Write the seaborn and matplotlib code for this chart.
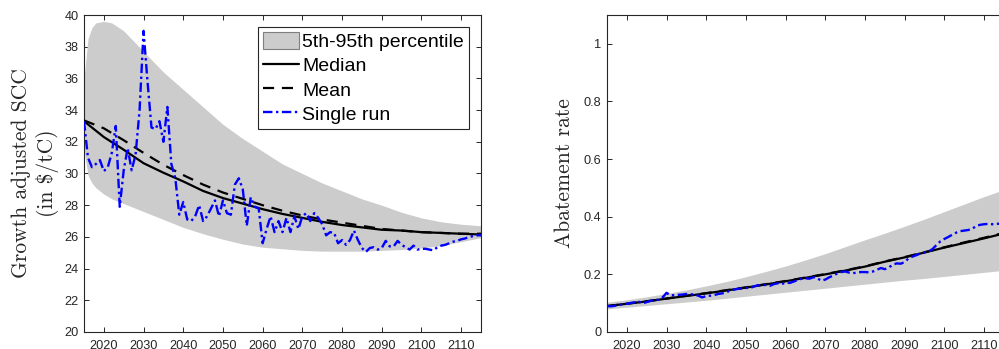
import numpy as np
import pandas as pd
import matplotlib
matplotlib.use("Agg")
import matplotlib.pyplot as plt
import seaborn as sns
from matplotlib.patches import Patch
from matplotlib.lines import Line2D

# ---------------- data ----------------
years_5 = [2015, 2020, 2025, 2030, 2035, 2040, 2045, 2050, 2055, 2060, 2065,
           2070, 2075, 2080, 2085, 2090, 2095, 2100, 2105, 2110, 2115]
years_1 = list(range(2015, 2116))

# Growth adjusted SCC (in $/tC)
scc_band_years = [2015, 2016, 2017, 2018, 2020, 2022, 2025, 2030, 2035, 2040,
                  2045, 2050, 2055, 2060, 2065, 2070, 2075, 2080, 2085, 2090,
                  2095, 2100, 2105, 2110, 2115]
scc_p95 = [36.0, 38.5, 39.2, 39.5, 39.6, 39.5, 39.0, 37.7, 36.4, 35.3,
           34.2, 33.1, 32.2, 31.4, 30.6, 30.0, 29.4, 28.9, 28.4, 28.0,
           27.55, 27.2, 26.95, 26.8, 26.7]
scc_p5 = [31.5, 29.9, 29.4, 29.1, 28.7, 28.4, 28.1, 27.6, 27.1, 26.6,
          26.2, 25.85, 25.55, 25.35, 25.25, 25.15, 25.1, 25.1, 25.1, 25.15,
          25.2, 25.3, 25.45, 25.7, 25.95]
scc_median = [33.3, 32.3, 31.5, 30.65, 30.05, 29.5, 28.9, 28.45, 28.1, 27.75, 27.45,
              27.2, 26.95, 26.75, 26.6, 26.45, 26.4, 26.3, 26.25, 26.2, 26.15]
scc_mean = [33.35, 32.85, 32.1, 31.3, 30.55, 29.9, 29.3, 28.8, 28.4, 28.0, 27.65,
            27.35, 27.1, 26.9, 26.7, 26.5, 26.4, 26.3, 26.25, 26.2, 26.2]
scc_single = [33.3, 31.0, 30.4, 30.6, 30.85, 30.15, 30.4, 31.3, 33.0, 27.9,
              30.2, 31.6, 30.2, 31.2, 34.0, 39.0, 35.8, 32.9, 32.8, 33.3,
              32.0, 34.2, 30.6, 29.7, 27.4, 28.2, 27.1, 27.0, 27.3, 28.0,
              27.0, 27.3, 27.8, 28.3, 27.3, 28.3, 27.5, 27.4, 29.3, 29.7,
              29.0, 26.7, 28.5, 27.9, 27.8, 25.6, 26.5, 27.3, 26.3, 27.0,
              26.3, 27.2, 26.3, 27.3, 26.5, 27.3, 27.5, 27.0, 27.5, 27.2,
              26.8, 26.1, 26.3, 26.25, 25.6, 25.8, 25.5, 25.8, 26.4, 25.8,
              25.3, 25.05, 25.3, 25.35, 25.2, 25.3, 25.75, 25.4, 25.4, 25.75,
              25.5, 25.35, 25.2, 25.45, 25.2, 25.25, 25.25, 25.2, 25.15, 25.35,
              25.45, 25.5, 25.6, 25.7, 25.75, 25.85, 25.9, 26.0, 26.05, 26.1,
              26.1]

# Abatement rate
abat_p95 = [0.103, 0.112, 0.122, 0.134, 0.146, 0.160, 0.175, 0.192, 0.210, 0.229, 0.250,
            0.272, 0.296, 0.320, 0.343, 0.367, 0.392, 0.418, 0.444, 0.470, 0.494]
abat_p5 = [0.080, 0.086, 0.092, 0.098, 0.104, 0.110, 0.117, 0.124, 0.131, 0.138, 0.145,
           0.152, 0.159, 0.166, 0.173, 0.180, 0.186, 0.193, 0.200, 0.207, 0.214]
abat_median = [0.090, 0.098, 0.106, 0.116, 0.125, 0.134, 0.144, 0.154, 0.165, 0.176, 0.188,
               0.200, 0.213, 0.227, 0.244, 0.259, 0.276, 0.293, 0.309, 0.325, 0.342]
abat_mean = [0.090, 0.098, 0.107, 0.116, 0.126, 0.135, 0.145, 0.155, 0.166, 0.177, 0.189,
             0.201, 0.214, 0.228, 0.245, 0.260, 0.277, 0.294, 0.311, 0.327, 0.344]
abat_single = [0.090, 0.089, 0.091, 0.094, 0.096, 0.098, 0.101, 0.103, 0.105, 0.099,
               0.104, 0.108, 0.111, 0.112, 0.120, 0.136, 0.127, 0.128, 0.129, 0.130,
               0.132, 0.131, 0.130, 0.126, 0.120, 0.125, 0.126, 0.128, 0.132, 0.134,
               0.137, 0.144, 0.147, 0.150, 0.151, 0.153, 0.152, 0.158, 0.162, 0.163,
               0.163, 0.160, 0.166, 0.169, 0.166, 0.172, 0.170, 0.175, 0.180, 0.185,
               0.186, 0.185, 0.190, 0.186, 0.178, 0.182, 0.190, 0.196, 0.203, 0.208,
               0.210, 0.206, 0.204, 0.207, 0.208, 0.208, 0.207, 0.210, 0.216, 0.222,
               0.218, 0.224, 0.234, 0.238, 0.237, 0.243, 0.256, 0.262, 0.267, 0.273,
               0.276, 0.279, 0.288, 0.302, 0.315, 0.323, 0.330, 0.338, 0.345, 0.350,
               0.352, 0.354, 0.358, 0.368, 0.372, 0.374, 0.375, 0.374, 0.375, 0.376,
               0.377]

x_ticks = [2020, 2030, 2040, 2050, 2060, 2070, 2080, 2090, 2100, 2110]
scc_ticks = [20, 22, 24, 26, 28, 30, 32, 34, 36, 38, 40]
abat_ticks = [0, 0.2, 0.4, 0.6, 0.8, 1.0]
abat_ticklabels = ["0", "0.2", "0.4", "0.6", "0.8", "1"]

legend_labels = ["5th-95th percentile", "Median", "Mean", "Single run"]

# ---------------- style ----------------
sns.set_style("ticks")
plt.rcParams["font.family"] = ["Liberation Sans", "DejaVu Sans"]
AX_COLOR = "#262626"
BAND = "#cccccc"
BLUE = "#0000ff"
MEAN_DASH = (0, (5, 3.5))
RUN_DASH = (0, (4, 1.5, 1, 1.5))

fig = plt.figure(figsize=(9.99, 3.49), dpi=100)
ax1 = fig.add_axes([84 / 999, 17 / 349, 397 / 999, 317 / 349])
ax2 = fig.add_axes([607 / 999, 17 / 349, 397 / 999, 317 / 349])

serif = ["cmr10", "DejaVu Serif"]


def draw_panel(ax, band_years, lo, hi, med, mean, single):
    ax.fill_between(band_years, lo, hi, color=BAND, linewidth=0, zorder=1)
    sns.lineplot(x=years_5, y=med, ax=ax, color="black", linewidth=1.6,
                 linestyle="-", zorder=2)
    sns.lineplot(x=years_5, y=mean, ax=ax, color="black", linewidth=1.6,
                 linestyle=MEAN_DASH, zorder=3)
    sns.lineplot(x=years_1, y=single, ax=ax, color=BLUE, linewidth=1.7,
                 linestyle=RUN_DASH, zorder=4)


def style_axes(ax, yticks, ylim):
    ax.set_xlim(2015, 2115)
    ax.set_ylim(*ylim)
    ax.set_xticks(x_ticks)
    ax.set_yticks(yticks)
    ax.tick_params(direction="in", length=3.5, width=0.7, colors=AX_COLOR,
                   labelsize=9.2, top=True, right=True)
    ax.tick_params(axis="x", pad=6)
    ax.tick_params(axis="y", pad=4)
    for s in ax.spines.values():
        s.set_visible(True)
        s.set_color(AX_COLOR)
        s.set_linewidth(0.8)
    ax.set_xlabel("")


draw_panel(ax1, scc_band_years, scc_p5, scc_p95, scc_median, scc_mean, scc_single)
style_axes(ax1, scc_ticks, (20, 40))
ax1.set_ylabel("Growth adjusted SCC\n(in $/tC)", family=serif, fontsize=15.5,
               color=AX_COLOR, labelpad=4, linespacing=1.25)

draw_panel(ax2, years_5, abat_p5, abat_p95, abat_median, abat_mean, abat_single)
style_axes(ax2, abat_ticks, (0, 1.1))
ax2.set_yticklabels(abat_ticklabels)
ax2.set_ylabel("Abatement rate", family=serif, fontsize=15.5, color=AX_COLOR,
               labelpad=7)

handles = [
    Patch(facecolor=BAND, edgecolor="#7f7f7f", linewidth=0.8),
    Line2D([], [], color="black", linewidth=1.6),
    Line2D([], [], color="black", linewidth=1.6, linestyle=MEAN_DASH),
    Line2D([], [], color=BLUE, linewidth=1.7, linestyle=RUN_DASH),
]
leg = ax1.legend(handles, legend_labels, loc="upper right",
                 bbox_to_anchor=(0.970, 0.962), borderaxespad=0,
                 fontsize=14, frameon=True, fancybox=False, framealpha=1,
                 edgecolor=AX_COLOR, handlelength=1.85, handleheight=0.95,
                 handletextpad=0.2, labelspacing=0.27, borderpad=0.25)
leg.get_frame().set_linewidth(0.8)
for t in leg.get_texts():
    t.set_color("black")

fig.savefig("out.png", dpi=100)
